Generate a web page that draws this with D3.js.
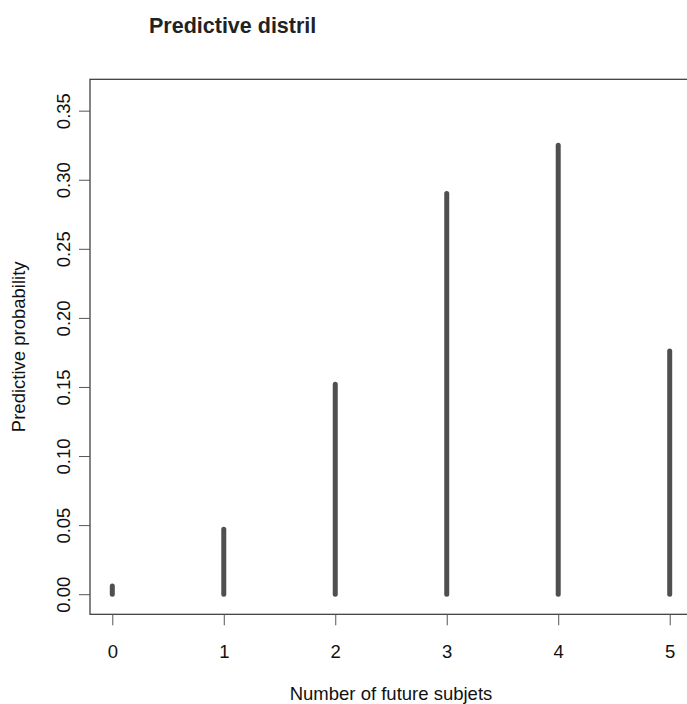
<!DOCTYPE html>
<html>
<head>
<meta charset="utf-8">
<script src="https://cdn.jsdelivr.net/npm/d3@7"></script>
<style>
  html, body { margin: 0; padding: 0; background: #fff; }
  svg { display: block; font-family: "Liberation Sans", Arial, sans-serif; }
</style>
</head>
<body>
<svg id="chart" width="687" height="704"></svg>
<script>
const categories = [0, 1, 2, 3, 4, 5];
const probabilities = [0.006, 0.047, 0.152, 0.290, 0.325, 0.176];
const yTicks = [0.00, 0.05, 0.10, 0.15, 0.20, 0.25, 0.30, 0.35];
const xTicks = [0, 1, 2, 3, 4, 5];
const title = "Predictive distril";
const xLabel = "Number of future subjets";
const yLabel = "Predictive probability";

const svg = d3.select("#chart");
const plotLeft = 90, plotRight = 692, plotTop = 79.3, plotBottom = 614.3;
const fs = 18.5;

const x = d3.scaleLinear().domain([-0.2, 5.2]).range([plotLeft, plotRight]);
const y = d3.scaleLinear().domain([-0.01455, 0.3727]).range([plotBottom, plotTop]);

// plot box
svg.append("rect")
  .attr("x", plotLeft).attr("y", plotTop)
  .attr("width", plotRight - plotLeft).attr("height", plotBottom - plotTop)
  .attr("fill", "none").attr("stroke", "#333").attr("stroke-width", 1.2);

// y axis
const yAxis = d3.axisLeft(y).tickValues(yTicks).tickFormat(d3.format(".2f")).tickSize(11).tickPadding(0);
const gy = svg.append("g").attr("transform", `translate(${plotLeft},0)`).call(yAxis);
gy.select(".domain").remove();
gy.selectAll(".tick line").attr("stroke", "#555").attr("stroke-width", 1);
gy.selectAll(".tick text").remove();
gy.selectAll(".tick").append("text")
  .attr("transform", "translate(-20,0) rotate(-90)")
  .attr("text-anchor", "middle")
  .attr("fill", "#111")
  .attr("font-size", fs)
  .attr("font-family", "Liberation Sans, Arial, sans-serif")
  .text(d => d3.format(".2f")(d));

// x axis
const xAxis = d3.axisBottom(x).tickValues(xTicks).tickFormat(d3.format("d")).tickSize(11).tickPadding(0);
const gx = svg.append("g").attr("transform", `translate(0,${plotBottom})`).call(xAxis);
gx.select(".domain").remove();
gx.selectAll(".tick line").attr("stroke", "#555").attr("stroke-width", 1);
gx.selectAll(".tick text")
  .attr("y", 43.5).attr("dy", 0)
  .attr("fill", "#111")
  .attr("font-size", fs)
  .attr("font-family", "Liberation Sans, Arial, sans-serif");

// bars (type = "h")
svg.append("g").selectAll("line")
  .data(categories.map((c, i) => ({c, p: probabilities[i]})))
  .join("line")
  .attr("x1", d => x(d.c)).attr("x2", d => x(d.c))
  .attr("y1", y(0)).attr("y2", d => y(d.p))
  .attr("stroke", "#4f4f4f")
  .attr("stroke-width", 5)
  .attr("stroke-linecap", "round");

// title
svg.append("text")
  .attr("x", 149).attr("y", 32.5)
  .attr("font-size", 21.5).attr("font-weight", "bold")
  .attr("fill", "#222")
  .text(title);

// x label
svg.append("text")
  .attr("x", (plotLeft + plotRight) / 2).attr("y", 700)
  .attr("text-anchor", "middle")
  .attr("font-size", fs).attr("fill", "#111")
  .text(xLabel);

// y label
svg.append("text")
  .attr("transform", `translate(25,${(plotTop + plotBottom) / 2}) rotate(-90)`)
  .attr("text-anchor", "middle")
  .attr("font-size", fs).attr("fill", "#111")
  .text(yLabel);
</script>
</body>
</html>
